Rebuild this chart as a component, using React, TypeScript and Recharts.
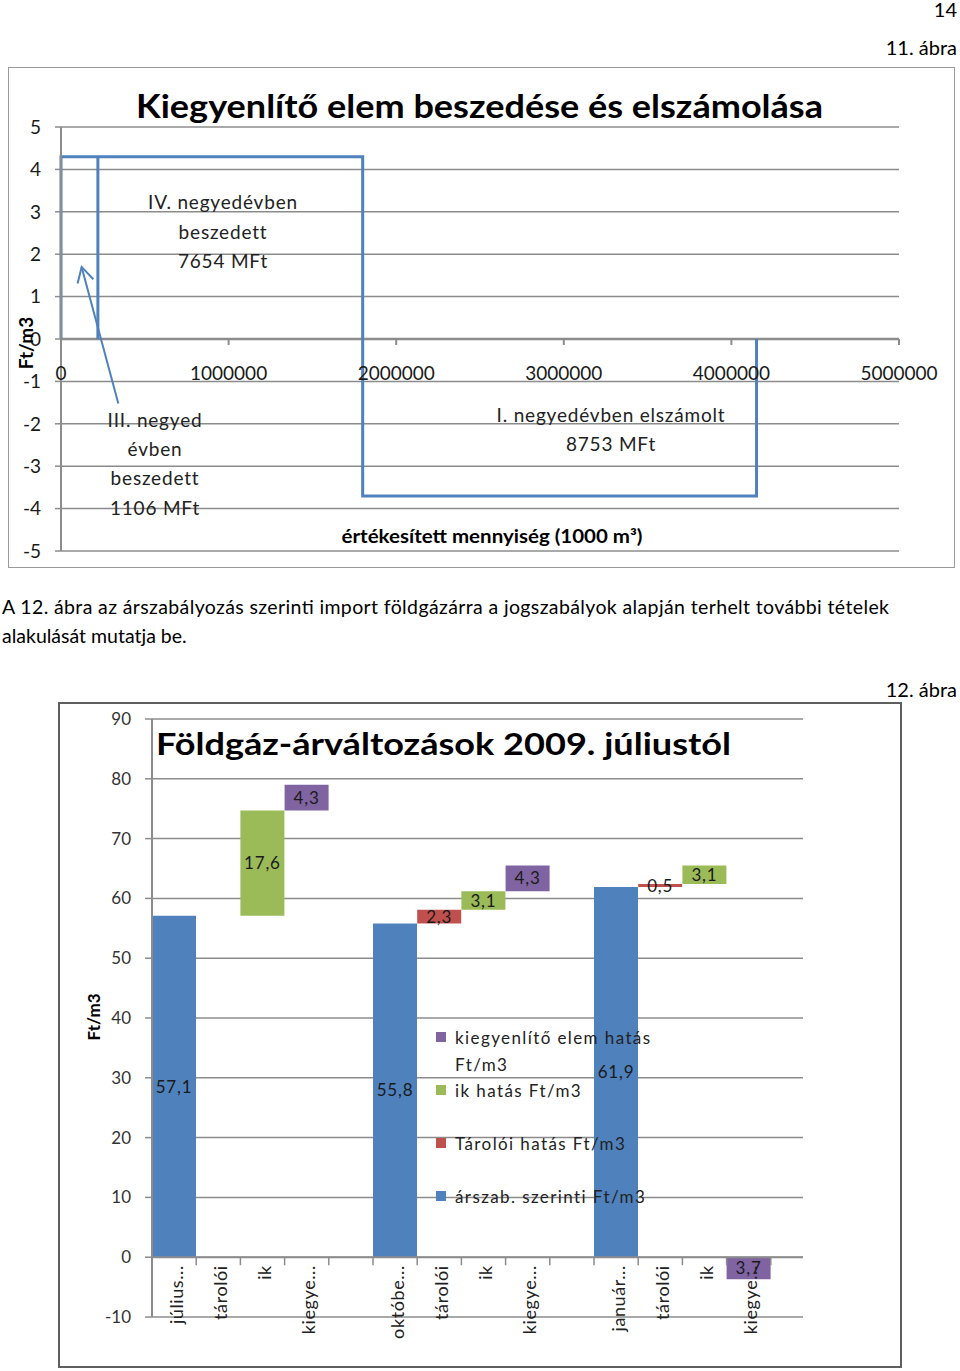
import React from 'react';
import {
  LineChart, Line, BarChart, Bar, XAxis, YAxis, CartesianGrid,
  ReferenceLine, LabelList, Legend,
} from 'recharts';

const FONT = 'Lato, "Open Sans", sans-serif';
const BLUE = '#4F81BD';
const RED = '#C0504D';
const GREEN = '#9BBB59';
const PURPLE = '#8064A2';
const GRID = '#8c8c8c';
const INK = '#1a1a1a';

// 11. ábra - kiegyenlítő elem beszedése és elszámolása
const outlineQty = [0, 0, 1800000, 1800000, 4150000, 4150000];
const outlineFt = [0, 4.3, 4.3, -3.7, -3.7, 0];
const dividerQty = [220000, 220000];
const dividerFt = [0, 4.3];
const arrowQty = [342000, 123000];
const arrowFt = [-1.52, 1.7];
const qtyTicks = [0, 1000000, 2000000, 3000000, 4000000, 5000000];
const ftTicks = [-5, -4, -3, -2, -1, 0, 1, 2, 3, 4, 5];
const ftMin = -5;
const ftMax = 5;

// 12. ábra - földgáz-árváltozások
const categories = [
  'július...', 'tárolói', 'ik', 'kiegye...', '',
  'októbe...', 'tárolói', 'ik', 'kiegye...', '',
  'január...', 'tárolói', 'ik', 'kiegye...', '',
];
const baseValues = [null, null, 57.1, 74.7, null, null, 55.8, 58.1, 61.2, null, null, 61.9, 62.4, 65.5, null];
const arszabValues = [57.1, null, null, null, null, 55.8, null, null, null, null, 61.9, null, null, null, null];
const taroloValues = [null, null, null, null, null, null, 2.3, null, null, null, null, 0.5, null, null, null];
const ikValues = [null, null, 17.6, null, null, null, null, 3.1, null, null, null, null, 3.1, null, null];
const kiegyValues = [null, null, null, 4.3, null, null, null, null, 4.3, null, null, null, null, -3.7, null];
const priceTicks = [-10, 0, 10, 20, 30, 40, 50, 60, 70, 80, 90];
const priceMin = -10;
const priceMax = 90;

const series = [
  { key: 'arszab', name: 'árszab. szerinti Ft/m3', color: BLUE },
  { key: 'tarolo', name: 'Tárolói hatás Ft/m3', color: RED },
  { key: 'ik', name: 'ik hatás Ft/m3', color: GREEN },
  { key: 'kiegy', name: 'kiegyenlítő elem hatás Ft/m3', color: PURPLE },
];

const outlineData = outlineQty.map((x, i) => ({ x, y: outlineFt[i] }));
const dividerData = dividerQty.map((x, i) => ({ x, y: dividerFt[i] }));
const priceData = categories.map((cat, i) => ({
  cat,
  base: baseValues[i],
  arszab: arszabValues[i],
  tarolo: taroloValues[i],
  ik: ikValues[i],
  kiegy: kiegyValues[i],
}));

// layout of the two chart boxes (page pixels)
const C1 = { x: 8, y: 67, w: 947, h: 501, top: 60, right: 56, axisW: 53, axisH: 17 };
const C1_PLOT_H = C1.h - C1.top - C1.axisH;
const C2 = { x: 58, y: 702, w: 844, h: 666, top: 17, right: 99, axisW: 94, axisH: 51, overhang: 12 };
const C2_PLOT_H = C2.h - C2.top - C2.axisH;
const C2_BAND = (C2.w - C2.right - C2.axisW + C2.overhang) / categories.length;

const huNum = (v: any) => {
  if (v === null || v === undefined || v === 0) return '';
  return Math.abs(v).toFixed(1).replace('.', ',');
};

// x axis of fig. 11 sits on the zero line, not at the bottom of the plot
function QtyTick(props: any) {
  const { x, y, payload } = props;
  const zeroY = y - (C1_PLOT_H * (0 - ftMin)) / (ftMax - ftMin);
  return (
    <g>
      <line x1={x} x2={x} y1={zeroY} y2={zeroY + 6} stroke={GRID} strokeWidth={2} />
      <text x={x} y={zeroY + 41} textAnchor="middle" fontSize={19} fontFamily={FONT} fill={INK}>
        {payload.value}
      </text>
    </g>
  );
}

function ArrowShape(props: any) {
  const { x1, y1, x2, y2 } = props;
  const ang = Math.atan2(y2 - y1, x2 - x1);
  const len = 17;
  const spread = 0.5;
  const a = { x: x2 - len * Math.cos(ang - spread), y: y2 - len * Math.sin(ang - spread) };
  const b = { x: x2 - len * Math.cos(ang + spread), y: y2 - len * Math.sin(ang + spread) };
  return (
    <g>
      <line x1={x1} y1={y1} x2={x2} y2={y2} stroke={BLUE} strokeWidth={2} />
      <polyline points={`${a.x},${a.y} ${x2},${y2} ${b.x},${b.y}`} fill="none" stroke={BLUE} strokeWidth={2} />
    </g>
  );
}

// category ticks of fig. 12: boundary marks on the zero line, rotated labels below it
function CatTick(props: any) {
  const { x, y, payload, index } = props;
  const zeroY = y - (C2_PLOT_H * (0 - priceMin)) / (priceMax - priceMin);
  const left = x - C2_BAND / 2;
  const ty = zeroY + 8;
  return (
    <g>
      {index > 0 && <line x1={left} x2={left} y1={zeroY} y2={zeroY + 8} stroke={GRID} strokeWidth={1.5} />}
      <text
        x={x}
        y={ty}
        dy={8.5}
        transform={`rotate(-90, ${x}, ${ty})`}
        textAnchor="end"
        fontSize={18}
        letterSpacing={0.6}
        fontFamily={FONT}
        fill="#222"
      >
        {payload.value}
      </text>
    </g>
  );
}

function PriceLegend() {
  return (
    <div style={{ fontFamily: FONT, fontSize: 17, letterSpacing: 1.4, color: '#222' }}>
      {[...series].reverse().map(s => (
        <div key={s.key} style={{ display: 'flex', alignItems: 'flex-start', height: 53 }}>
          <span style={{ width: 10, height: 10, background: s.color, marginTop: 8.5, marginRight: 9, flex: 'none' }} />
          <span style={{ width: 205, lineHeight: '27px' }}>{s.name}</span>
        </div>
      ))}
    </div>
  );
}

function BalanceChart() {
  return (
    <LineChart
      width={C1.w}
      height={C1.h}
      margin={{ top: C1.top, right: C1.right, bottom: 0, left: 0 }}
    >
      <CartesianGrid vertical={false} stroke={GRID} strokeWidth={1.5} />
      <XAxis
        type="number"
        dataKey="x"
        domain={[0, 5000000]}
        ticks={qtyTicks}
        height={C1.axisH}
        axisLine={false}
        tickLine={false}
        tickSize={0}
        tickMargin={0}
        interval={0}
        tick={(p: any) => <QtyTick {...p} />}
      />
      <YAxis
        type="number"
        domain={[ftMin, ftMax]}
        ticks={ftTicks}
        width={C1.axisW}
        axisLine={{ stroke: GRID, strokeWidth: 2 }}
        tickLine={{ stroke: GRID, strokeWidth: 1.5 }}
        tickSize={6}
        tickMargin={14}
        interval={0}
        tick={{ fontSize: 19, fill: INK, fontFamily: FONT }}
      />
      <ReferenceLine y={0} stroke={GRID} strokeWidth={2.5} />
      <Line data={outlineData} dataKey="y" type="linear" stroke={BLUE} strokeWidth={3} dot={false} isAnimationActive={false} />
      <Line data={dividerData} dataKey="y" type="linear" stroke={BLUE} strokeWidth={3} dot={false} isAnimationActive={false} />
      <ReferenceLine
        segment={[{ x: arrowQty[0], y: arrowFt[0] }, { x: arrowQty[1], y: arrowFt[1] }]}
        shape={(p: any) => <ArrowShape {...p} />}
      />
    </LineChart>
  );
}

function PriceChart() {
  return (
    <BarChart
      width={C2.w}
      height={C2.h}
      data={priceData}
      margin={{ top: C2.top, right: C2.right, bottom: 0, left: 0 }}
      barCategoryGap={0}
      stackOffset="sign"
    >
      <CartesianGrid vertical={false} stroke={GRID} strokeWidth={1.5} />
      <XAxis
        dataKey="cat"
        height={C2.axisH}
        axisLine={false}
        tickLine={false}
        tickSize={0}
        tickMargin={0}
        interval={0}
        padding={{ left: 0, right: -C2.overhang }}
        tick={(p: any) => <CatTick {...p} />}
      />
      <YAxis
        type="number"
        domain={[priceMin, priceMax]}
        ticks={priceTicks}
        width={C2.axisW}
        axisLine={{ stroke: GRID, strokeWidth: 2 }}
        tickLine={{ stroke: GRID, strokeWidth: 1.5 }}
        tickSize={7}
        tickMargin={14}
        interval={0}
        tick={{ fontSize: 17, fill: '#333', fontFamily: FONT }}
      />
      <ReferenceLine y={0} stroke={GRID} strokeWidth={2} />
      <Bar dataKey="base" stackId="w" fill="none" legendType="none" isAnimationActive={false} />
      {series.map(s => (
        <Bar key={s.key} dataKey={s.key} name={s.name} stackId="w" fill={s.color} isAnimationActive={false}>
          <LabelList
            dataKey={s.key}
            position="center"
            formatter={huNum}
            fontSize={17}
            fill={INK}
            fontFamily={FONT}
            letterSpacing={0.8}
          />
        </Bar>
      ))}
      <Legend
        layout="horizontal"
        verticalAlign="middle"
        align="center"
        content={() => <PriceLegend />}
        wrapperStyle={{ left: 378, top: 321.5, width: 240 }}
      />
    </BarChart>
  );
}

export default function App() {
  return (
    <div style={{ position: 'absolute', left: 0, top: 0, width: 960, height: 1371, background: '#fff' }}>
      <div style={{ position: 'absolute', left: C1.x, top: C1.y }}>
        <BalanceChart />
      </div>
      <div style={{ position: 'absolute', left: C2.x, top: C2.y }}>
        <PriceChart />
      </div>
      <div style={{ position: 'absolute', left: C1.x, top: C1.y, width: C1.w, height: C1.h, border: '1.5px solid #9a9a9a', boxSizing: 'border-box', pointerEvents: 'none' }} />
      <div style={{ position: 'absolute', left: C2.x, top: C2.y, width: C2.w, height: C2.h, border: '2px solid #5f5f5f', boxSizing: 'border-box', pointerEvents: 'none' }} />

      <svg width={960} height={1371} style={{ position: 'absolute', left: 0, top: 0, pointerEvents: 'none', fontFamily: FONT }}>
        {/* page text */}
        <text x={957} y={17} textAnchor="end" fontSize={20} fill="#000">14</text>
        <text x={957} y={55} textAnchor="end" fontSize={20} fill="#000">11. ábra</text>
        <text x={2} y={614} fontSize={19.5} fill="#000" textLength={887} lengthAdjust="spacing">
          A 12. ábra az árszabályozás szerinti import földgázárra a jogszabályok alapján terhelt további tételek
        </text>
        <text x={2} y={643} fontSize={19.5} fill="#000">alakulását mutatja be.</text>
        <text x={957} y={697} textAnchor="end" fontSize={20} fill="#000">12. ábra</text>

        {/* fig. 11 */}
        <text x={136} y={118} fontSize={32} fontWeight={700} fill="#000" textLength={687} lengthAdjust="spacingAndGlyphs">
          Kiegyenlítő elem beszedése és elszámolása
        </text>
        <text x={33} y={343} transform="rotate(-90, 33, 343)" textAnchor="middle" fontSize={19} fontWeight={700} fill="#000">Ft/m3</text>
        <text x={492} y={543} textAnchor="middle" fontSize={18} fontWeight={700} fill="#000" textLength={301} lengthAdjust="spacingAndGlyphs">
          értékesített mennyiség (1000 m³)
        </text>
        <g fontSize={19} fill="#222" textAnchor="middle" letterSpacing={0.8}>
          <text x={223} y={209}>IV. negyedévben</text>
          <text x={223} y={239}>beszedett</text>
          <text x={223} y={268}>7654 MFt</text>
          <text x={155} y={427}>III. negyed</text>
          <text x={155} y={456}>évben</text>
          <text x={155} y={485}>beszedett</text>
          <text x={155} y={515}>1106 MFt</text>
          <text x={611} y={422}>I. negyedévben elszámolt</text>
          <text x={611} y={451}>8753 MFt</text>
        </g>

        {/* fig. 12 */}
        <text x={156} y={755} fontSize={31} fontWeight={700} fill="#000" textLength={575} lengthAdjust="spacingAndGlyphs">
          Földgáz-árváltozások 2009. júliustól
        </text>
        <text x={100} y={1017} transform="rotate(-90, 100, 1017)" textAnchor="middle" fontSize={17} fontWeight={700} fill="#000">Ft/m3</text>
      </svg>
    </div>
  );
}
